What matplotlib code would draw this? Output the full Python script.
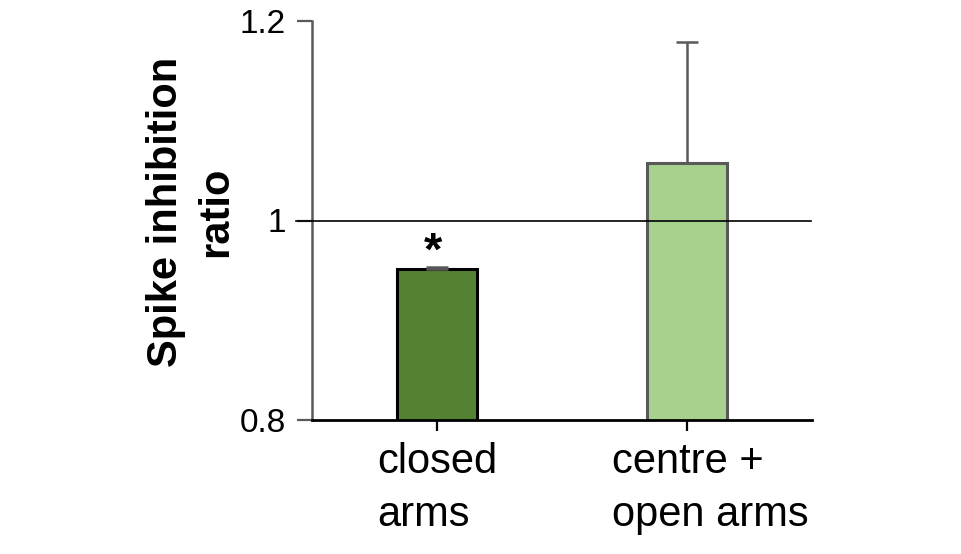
import numpy as np
import matplotlib
matplotlib.use("Agg")
import matplotlib.pyplot as plt

plt.rcParams['font.family'] = ['Liberation Sans', 'DejaVu Sans']

# data
categories = ['closed\narms', 'centre +\nopen arms']
ratio_mean = [0.951, 1.058]
ratio_err = [0.002, 0.121]
bar_colors = ['#548235', '#A9D18E']
edge_colors = ['#000000', '#595959']
y_ticks = [0.8, 1.0, 1.2]
y_tick_labels = ['0.8', '1', '1.2']

# horizontal nudge (points) of each category label, as in the original
label_dx = [0, 17]

GRAY = '#595959'

fig = plt.figure(figsize=(9.61, 5.54), dpi=100)
ax = fig.add_axes([312 / 961, (554 - 420) / 554, 500 / 961, 399 / 554])

x = np.arange(len(categories))
ax.bar(x, ratio_mean, width=0.32, bottom=0, color=bar_colors,
       edgecolor=edge_colors, linewidth=2.2, zorder=2)

# one-sided (upper) error bars
ax.errorbar(x, ratio_mean, yerr=[np.zeros(len(x)), ratio_err], fmt='none',
            ecolor=GRAY, elinewidth=1.8, capsize=8, capthick=1.8, zorder=3)

# reference line at ratio = 1
ax.axhline(1.0, xmin=-0.032, xmax=0.998, color='black', linewidth=1.2,
           clip_on=False, zorder=4)

# significance marker
ax.text(x[0] - 0.015, 0.956, '*', ha='center', va='baseline',
        fontsize=34, fontweight='bold')

ax.set_xlim(-0.5, 1.5)
ax.set_ylim(0.8, 1.2)
ax.set_yticks(y_ticks)
ax.set_yticklabels(y_tick_labels, fontsize=24)
ax.set_xticks(x)
ax.set_xticklabels([])

# category labels, left-aligned lines
for xi, name, dx in zip(x, categories, label_dx):
    ax.annotate(name, xy=(xi, 0), xycoords=('data', 'axes fraction'),
                xytext=(dx, -16), textcoords='offset points',
                ha='center', va='top', multialignment='left',
                fontsize=30, linespacing=1.4, annotation_clip=False)

for s in ['top', 'right']:
    ax.spines[s].set_visible(False)
ax.spines['left'].set_color(GRAY)
ax.spines['left'].set_linewidth(1.8)
ax.spines['bottom'].set_color('black')
ax.spines['bottom'].set_linewidth(2.0)
ax.tick_params(axis='y', direction='out', length=11, width=1.6, color=GRAY, pad=8)
ax.tick_params(axis='x', direction='out', length=8, width=1.6, color='black')

fig.text(191 / 961, (554 - 212) / 554, 'Spike inhibition\nratio', rotation=90,
         ha='center', va='center', fontsize=30, fontweight='bold',
         linespacing=1.3)

fig.savefig('out.png', dpi=100)
